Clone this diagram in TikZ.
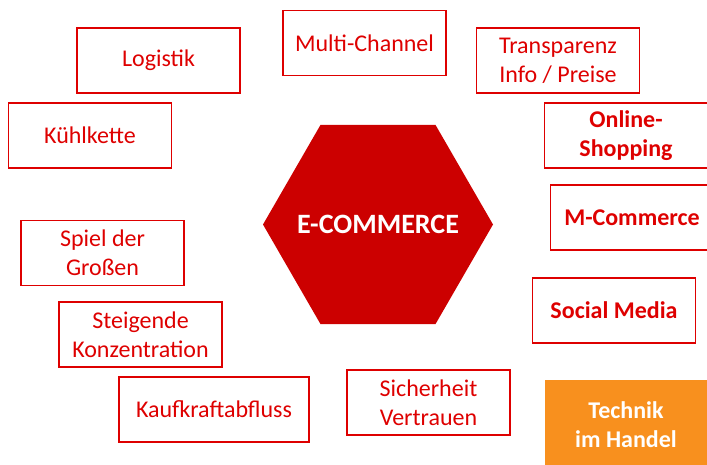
\documentclass[tikz,border=0pt]{standalone}
\usepackage{fontspec}
\setmainfont{Carlito}
\usepackage{xcolor}
\usetikzlibrary{shapes.geometric}

\definecolor{ecred}{RGB}{222,0,0}
\definecolor{hexred}{RGB}{204,0,0}
\definecolor{ecorange}{RGB}{248,144,30}

\begin{document}
\begin{tikzpicture}[
  x=1pt, y=-1pt,
  every node/.style={align=center, font=\fontsize{24}{29}\selectfont},
  topic/.style={draw=ecred, line width=1.5pt, text=ecred,
    minimum width=163pt, minimum height=65pt, inner sep=2pt},
  key/.style={topic, font=\fontsize{24}{29}\selectfont\bfseries},
  tech/.style={fill=ecorange, text=white, minimum width=162pt,
    minimum height=90pt, font=\fontsize{24}{29}\selectfont\bfseries},
  hex/.style={regular polygon, regular polygon sides=6, minimum size=230pt,
    inner sep=0pt, fill=hexred},
  hextext/.style={text=white, font=\fontsize{28}{32}\selectfont\bfseries}
]
  \useasboundingbox (0,0) rectangle (707,465);
  \clip (0,0) rectangle (707,465);

  \node[hex] (ecom) at (378,224.5) {};
  \node[hextext] (ecomtext) at (ecom.center) {E-COMMERCE};

  % left side
  \node[topic] (logistik) at (158.5,60.5) {Logistik};
  \node[topic] (kuehl) at (90,135.5) {Kühlkette};
  \node[topic] (spiel) at (102.5,253) {Spiel der\\Großen};
  \node[topic] (steig) at (140.5,334.5) {Steigende\\Konzentration};
  \node[topic, minimum width=190pt] (kauf) at (214,409.5) {Kaufkraftabfluss};

  % top and bottom
  \node[topic] (multi) at (364.5,43) {Multi-Channel};
  \node[topic] (sicher) at (428.5,402.5) {Sicherheit\\Vertrauen};

  % right side
  \node[topic] (transp) at (558,60.5) {Transparenz\\Info / Preise};
  \node[key] (online) at (626,135.5) {Online-\\Shopping};
  \node[key] (mcomm) at (632,217.5) {M-Commerce};
  \node[key] (social) at (614,310.5) {Social Media};
  \node[tech] (technik) at (626,425) {Technik\\im Handel};
\end{tikzpicture}
\end{document}
